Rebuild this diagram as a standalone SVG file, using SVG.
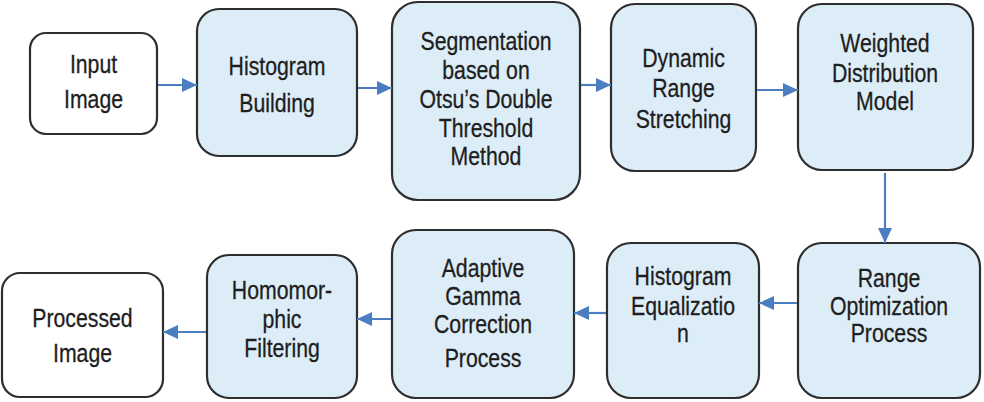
<svg xmlns="http://www.w3.org/2000/svg" width="984" height="402" viewBox="0 0 984 402">
<style>
.box{fill:#DDEDF8;stroke:#2E2E2E;stroke-width:2.2}
.io{fill:#FFFFFF;stroke:#2E2E2E;stroke-width:2.2}
.lbl{font-family:"Liberation Sans",Arial,sans-serif;font-size:25px;fill:#1E1E1E;text-anchor:middle;stroke:#1E1E1E;stroke-width:0.3}
.conn{stroke:#4A7EC0;stroke-width:2.2;fill:none}
</style>
<defs>
<marker id="ah" markerUnits="userSpaceOnUse" markerWidth="16" markerHeight="14" refX="15" refY="7" orient="auto">
<path d="M0,0 L15,7 L0,14 Z" fill="#4A7EC0"/>
</marker>
</defs>
<rect width="984" height="402" fill="#FFFFFF"/>

<g id="n1">
<rect class="io" x="30" y="33" width="127" height="101" rx="16"/>
<g transform="translate(93.5,0) scale(0.85,1)"><text class="lbl"><tspan x="0" y="73">Input</tspan><tspan x="0" y="108">Image</tspan></text></g>
</g>
<g id="n2">
<rect class="box" x="197" y="9" width="160" height="147" rx="22"/>
<g transform="translate(277,0) scale(0.85,1)"><text class="lbl"><tspan x="0" y="75">Histogram</tspan><tspan x="0" y="112">Building</tspan></text></g>
</g>
<g id="n3">
<rect class="box" x="392" y="2" width="188" height="198" rx="26"/>
<g transform="translate(486,0) scale(0.85,1)"><text class="lbl"><tspan x="0" y="50">Segmentation</tspan><tspan x="0" y="79">based on</tspan><tspan x="0" y="108">Otsu’s Double</tspan><tspan x="0" y="137">Threshold</tspan><tspan x="0" y="165">Method</tspan></text></g>
</g>
<g id="n4">
<rect class="box" x="611" y="4" width="145" height="167" rx="24"/>
<g transform="translate(683.5,0) scale(0.85,1)"><text class="lbl"><tspan x="0" y="67">Dynamic</tspan><tspan x="0" y="97">Range</tspan><tspan x="0" y="128">Stretching</tspan></text></g>
</g>
<g id="n5">
<rect class="box" x="798" y="4" width="175" height="166" rx="24"/>
<g transform="translate(885,0) scale(0.85,1)"><text class="lbl"><tspan x="0" y="52">Weighted</tspan><tspan x="0" y="82">Distribution</tspan><tspan x="0" y="110">Model</tspan></text></g>
</g>
<g id="n6">
<rect class="box" x="798" y="243" width="182" height="155" rx="24"/>
<g transform="translate(889,0) scale(0.85,1)"><text class="lbl"><tspan x="0" y="287">Range</tspan><tspan x="0" y="315">Optimization</tspan><tspan x="0" y="342">Process</tspan></text></g>
</g>
<g id="n7">
<rect class="box" x="607" y="243" width="152" height="155" rx="24"/>
<g transform="translate(683,0) scale(0.85,1)"><text class="lbl"><tspan x="0" y="285">Histogram</tspan><tspan x="0" y="315">Equalizatio</tspan><tspan x="0" y="342">n</tspan></text></g>
</g>
<g id="n8">
<rect class="box" x="392" y="230" width="182" height="168" rx="24"/>
<g transform="translate(483,0) scale(0.85,1)"><text class="lbl"><tspan x="0" y="277">Adaptive</tspan><tspan x="0" y="305">Gamma</tspan><tspan x="0" y="333">Correction</tspan><tspan x="0" y="367">Process</tspan></text></g>
</g>
<g id="n9">
<rect class="box" x="207" y="255" width="150" height="143" rx="22"/>
<g transform="translate(282,0) scale(0.85,1)"><text class="lbl"><tspan x="0" y="299">Homomor-</tspan><tspan x="0" y="328">phic</tspan><tspan x="0" y="357">Filtering</tspan></text></g>
</g>
<g id="n10">
<rect class="io" x="2" y="273" width="161" height="124" rx="18"/>
<g transform="translate(82.5,0) scale(0.85,1)"><text class="lbl"><tspan x="0" y="327">Processed</tspan><tspan x="0" y="362">Image</tspan></text></g>
</g>

<g id="connectors">
<line class="conn" x1="158" y1="85" x2="197" y2="85" marker-end="url(#ah)"/>
<line class="conn" x1="358" y1="88" x2="392" y2="88" marker-end="url(#ah)"/>
<line class="conn" x1="581" y1="85" x2="611" y2="85" marker-end="url(#ah)"/>
<line class="conn" x1="757" y1="90" x2="798" y2="90" marker-end="url(#ah)"/>
<line class="conn" x1="885" y1="173" x2="885" y2="243" marker-end="url(#ah)"/>
<line class="conn" x1="797" y1="303" x2="759" y2="303" marker-end="url(#ah)"/>
<line class="conn" x1="606" y1="313" x2="574" y2="313" marker-end="url(#ah)"/>
<line class="conn" x1="391" y1="319" x2="357" y2="319" marker-end="url(#ah)"/>
<line class="conn" x1="206" y1="332" x2="163" y2="332" marker-end="url(#ah)"/>
</g>
</svg>
